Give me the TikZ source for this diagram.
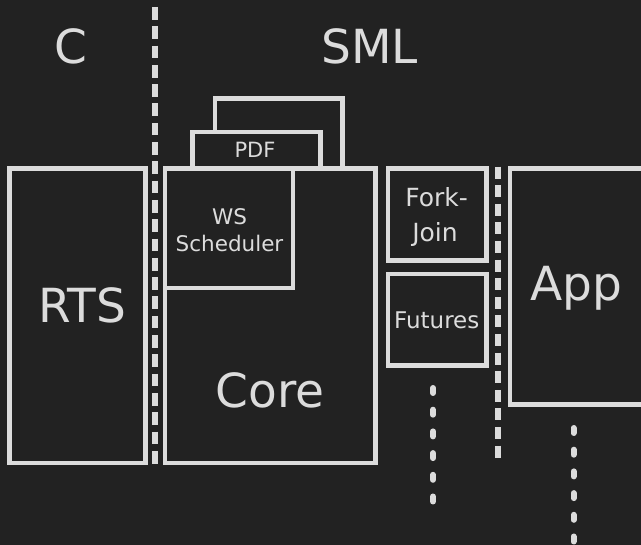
\documentclass[tikz,border=0pt]{standalone}
\usepackage{fontspec}
\setmainfont{DejaVu Sans}
\definecolor{bg}{HTML}{222222}
\definecolor{fg}{HTML}{DCDCDC}
\tikzset{
  box/.style={draw=fg, line width=4.5pt, fill=bg, inner sep=0pt, outer sep=0pt},
  lbl/.style={text=fg, inner sep=0pt, anchor=base},
  big/.style={lbl, font=\fontsize{47}{47}\selectfont},
  sep/.style={draw=fg, line width=6pt, dash pattern=on 12.7pt off 6.6pt},
  dots/.style={draw=fg, line width=6pt, line cap=round, dash pattern=on 5pt off 16.7pt},
}
\begin{document}
\begin{tikzpicture}[x=1pt,y=-1pt]
  \useasboundingbox (0,0) rectangle (641,545);
  \clip (0,0) rectangle (641,545);
  \fill[bg] (0,0) rectangle (641,545);

  % column headings
  \node[big] (hc) at (71,64) {C};
  \node[big] (hsml) at (369.5,63.3) {SML};

  % C / SML boundary
  \coordinate (s1top) at (155,7);
  \coordinate (s1bot) at (155,465);
  \draw[sep] (s1top) -- (s1bot);

  % runtime system
  \node[box, minimum width=136.2pt, minimum height=294.5pt] (rts) at (77.6,315.75) {};
  \node[big] (trts) at (82,323) {RTS};

  % scheduler stack: stacked policies, then core with its scheduler
  \node[box, minimum width=127.3pt, minimum height=70pt] (pol) at (278.65,133.5) {};
  \node[box, minimum width=127.6pt, minimum height=36.5pt] (pdf) at (256.5,150.25) {};
  \node[lbl, font=\fontsize{21}{21}\selectfont] (tpdf) at (255,157.3) {PDF};
  \node[box, minimum width=210.5pt, minimum height=294.5pt] (core) at (270.25,315.75) {};
  \node[box, minimum width=128pt, minimum height=119.5pt] (ws) at (229,228.25) {};
  \node[lbl, font=\fontsize{21.5}{21.5}\selectfont] (tws1) at (229.5,225) {WS};
  \node[lbl, font=\fontsize{21.5}{21.5}\selectfont] (tws2) at (229.5,251.7) {Scheduler};
  \node[big] (tcore) at (270,407.3) {Core};

  % parallelism libraries
  \node[box, minimum width=98.5pt, minimum height=92pt] (fj) at (437.25,214.5) {};
  \node[lbl, font=\fontsize{25}{25}\selectfont] (tfj1) at (436.7,206.7) {Fork-};
  \node[lbl, font=\fontsize{25}{25}\selectfont] (tfj2) at (435,241.5) {Join};
  \node[box, minimum width=98.5pt, minimum height=91.5pt] (fut) at (437.25,319.75) {};
  \node[lbl, font=\fontsize{23}{23}\selectfont] (tfut) at (436.7,328.3) {Futures};

  \coordinate (d1top) at (433,388);
  \coordinate (d1bot) at (433,502);
  \draw[dots] (d1top) -- (d1bot);

  % library / application boundary
  \coordinate (s2top) at (498,166.7);
  \coordinate (s2bot) at (498,458);
  \draw[sep, line width=5.5pt, dash pattern=on 12pt off 6.6pt] (s2top) -- (s2bot);

  % application
  \node[box, minimum width=160pt, minimum height=236pt] (app) at (590,286.5) {};
  \node[big] (tapp) at (576,300.7) {App};

  \coordinate (d2top) at (573.5,428);
  \coordinate (d2bot) at (573.5,565);
  \draw[dots] (d2top) -- (d2bot);
\end{tikzpicture}
\end{document}
